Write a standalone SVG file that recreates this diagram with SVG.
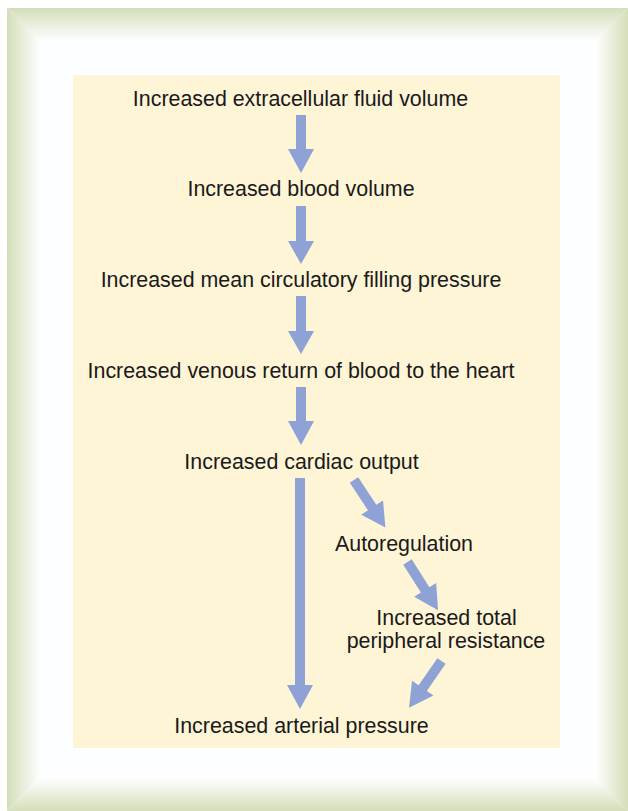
<svg xmlns="http://www.w3.org/2000/svg" width="628" height="811" viewBox="0 0 628 811">
  <defs>
    <linearGradient id="gTop" x1="0" y1="8" x2="0" y2="41" gradientUnits="userSpaceOnUse">
      <stop offset="0" stop-color="#d4deb9"/>
      <stop offset="1" stop-color="#fdfeff"/>
    </linearGradient>
    <linearGradient id="gBot" x1="0" y1="811" x2="0" y2="778" gradientUnits="userSpaceOnUse">
      <stop offset="0" stop-color="#d4deb9"/>
      <stop offset="1" stop-color="#ffffff"/>
    </linearGradient>
    <linearGradient id="gLeft" x1="7" y1="0" x2="40" y2="0" gradientUnits="userSpaceOnUse">
      <stop offset="0" stop-color="#d4deb9"/>
      <stop offset="1" stop-color="#fdfeff"/>
    </linearGradient>
    <linearGradient id="gRight" x1="628" y1="0" x2="595" y2="0" gradientUnits="userSpaceOnUse">
      <stop offset="0" stop-color="#d4deb9"/>
      <stop offset="1" stop-color="#ffffff"/>
    </linearGradient>
    <polygon id="arrowDiag" points="-5,0 5,0 5,33 13,33 0,57 -13,33 -5,33"/>
  </defs>
  <style>
    .lbl { font-family: "Liberation Sans", Arial, sans-serif; font-size: 21.4px; fill: #1a1a1a; text-anchor: middle; }
    .arr { fill: #8fa2d6; }
  </style>

  <!-- frame -->
  <rect x="40" y="41" width="555" height="737" fill="#fdfeff"/>
  <polygon points="7,8 628,8 595,41 40,41" fill="url(#gTop)"/>
  <polygon points="7,811 628,811 595,778 40,778" fill="url(#gBot)"/>
  <polygon points="7,8 40,41 40,778 7,811" fill="url(#gLeft)"/>
  <polygon points="628,8 595,41 595,778 628,811" fill="url(#gRight)"/>

  <!-- panel -->
  <rect x="73" y="75" width="487" height="673" fill="#fef4d6"/>

  <!-- connectors -->
  <g id="connectors" class="arr">
    <polygon points="296,115 306,115 306,149 314,149 301,173 288,149 296,149"/>
    <polygon points="296,206 306,206 306,241 314,241 301,264 288,241 296,241"/>
    <polygon points="296,296 306,296 306,331 314,331 301,354 288,331 296,331"/>
    <polygon points="296,387 306,387 306,421 314,421 301,445 288,421 296,421"/>
    <polygon points="295,478 305,478 305,685 313,685 300,709 287,685 295,685"/>
    <use href="#arrowDiag" transform="translate(354,480) rotate(-33.4)"/>
    <use href="#arrowDiag" transform="translate(407.5,562) rotate(-32.4)"/>
    <use href="#arrowDiag" transform="translate(441.5,661) rotate(34.7)"/>
  </g>

  <!-- nodes -->
  <g id="n1"><text class="lbl" x="300.5" y="106">Increased extracellular fluid volume</text></g>
  <g id="n2"><text class="lbl" x="301" y="196">Increased blood volume</text></g>
  <g id="n3"><text class="lbl" x="301" y="287">Increased mean circulatory filling pressure</text></g>
  <g id="n4"><text class="lbl" x="301" y="378">Increased venous return of blood to the heart</text></g>
  <g id="n5"><text class="lbl" x="301.5" y="469">Increased cardiac output</text></g>
  <g id="n6"><text class="lbl" x="404" y="551">Autoregulation</text></g>
  <g id="n7">
    <text class="lbl" x="446.5" y="625">Increased total</text>
    <text class="lbl" x="446" y="648">peripheral resistance</text>
  </g>
  <g id="n8"><text class="lbl" x="301.5" y="733">Increased arterial pressure</text></g>
</svg>
